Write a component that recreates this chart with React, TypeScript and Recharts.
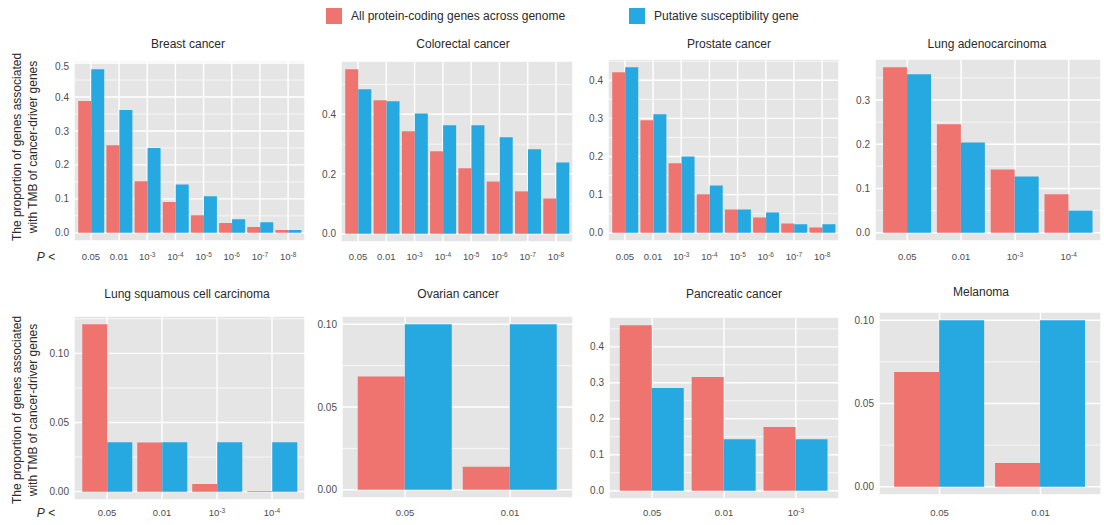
import React from 'react';
import { BarChart, Bar, XAxis, YAxis, CartesianGrid } from 'recharts';

// P-value cut-offs shown on the x axis ("1e-3" is drawn as 10 with a superscript)
const pCutoffs = ['0.05', '0.01', '1e-3', '1e-4', '1e-5', '1e-6', '1e-7', '1e-8'];
const seriesNames = ['All protein-coding genes across genome', 'Putative susceptibility gene'];

// proportions
const breastGenome = [0.388, 0.258, 0.152, 0.091, 0.052, 0.029, 0.017, 0.008];
const breastSuscept = [0.482, 0.362, 0.25, 0.142, 0.108, 0.04, 0.031, 0.008];
const colorectalGenome = [0.551, 0.447, 0.343, 0.276, 0.219, 0.175, 0.142, 0.118];
const colorectalSuscept = [0.484, 0.444, 0.403, 0.363, 0.363, 0.323, 0.283, 0.239];
const prostateGenome = [0.421, 0.295, 0.182, 0.101, 0.061, 0.04, 0.024, 0.014];
const prostateSuscept = [0.434, 0.311, 0.2, 0.124, 0.061, 0.053, 0.022, 0.022];
const luadGenome = [0.374, 0.245, 0.143, 0.087];
const luadSuscept = [0.358, 0.204, 0.127, 0.05];
const luscGenome = [0.121, 0.0355, 0.0056, 0.0005];
const luscSuscept = [0.0357, 0.0357, 0.0357, 0.0357];
const ovarianGenome = [0.0685, 0.0139];
const ovarianSuscept = [0.1, 0.1];
const pancreaticGenome = [0.46, 0.316, 0.177];
const pancreaticSuscept = [0.2857, 0.1429, 0.1429];
const melanomaGenome = [0.0689, 0.0143];
const melanomaSuscept = [0.1, 0.1];

// y ticks (major labelled, minor = thin grid only)
const ticksTenths = [0, 0.1, 0.2, 0.3, 0.4, 0.5];
const ticksFifths = [0, 0.2, 0.4];
const ticksSmall = [0, 0.05, 0.1];
const minorTenths = [0.05, 0.15, 0.25, 0.35, 0.45];
const minorFifths = [0.1, 0.3, 0.5];
const minorSmall = [0.025, 0.075, 0.125];

const RED = '#EF7470';
const BLUE = '#26A9E0';
const TEXT = '#2A2A2A';
const FONT = '"Liberation Sans", Arial, Helvetica, sans-serif';
const AXW = 45;

const panels = [
  { title: 'Breast cancer', cats: pCutoffs, genome: breastGenome, suscept: breastSuscept, major: ticksTenths, minor: minorTenths, digits: 1, box: { x: 74, y: 61, w: 231, h: 180 }, titleX: 188, titleY: 44, labelY: 257 },
  { title: 'Colorectal cancer', cats: pCutoffs, genome: colorectalGenome, suscept: colorectalSuscept, major: ticksFifths, minor: minorFifths, digits: 1, box: { x: 341, y: 61, w: 232, h: 181 }, titleX: 463, titleY: 44, labelY: 257 },
  { title: 'Prostate cancer', cats: pCutoffs, genome: prostateGenome, suscept: prostateSuscept, major: ticksTenths.slice(0, 5), minor: minorTenths, digits: 1, box: { x: 608, y: 59, w: 231, h: 182 }, titleX: 729, titleY: 44, labelY: 257 },
  { title: 'Lung adenocarcinoma', cats: pCutoffs.slice(0, 4), genome: luadGenome, suscept: luadSuscept, major: ticksTenths.slice(0, 4), minor: minorTenths.slice(0, 4), digits: 1, box: { x: 875, y: 59, w: 226, h: 182 }, titleX: 987, titleY: 44, labelY: 257 },
  { title: 'Lung squamous cell carcinoma', cats: pCutoffs.slice(0, 4), genome: luscGenome, suscept: luscSuscept, major: ticksSmall, minor: minorSmall, digits: 2, box: { x: 74, y: 316, w: 231, h: 184 }, titleX: 187, titleY: 294, labelY: 513 },
  { title: 'Ovarian cancer', cats: pCutoffs.slice(0, 2), genome: ovarianGenome, suscept: ovarianSuscept, major: ticksSmall, minor: minorSmall.slice(0, 2), digits: 2, box: { x: 342, y: 316, w: 231, h: 182 }, titleX: 458, titleY: 294, labelY: 513 },
  { title: 'Pancreatic cancer', cats: pCutoffs.slice(0, 3), genome: pancreaticGenome, suscept: pancreaticSuscept, major: ticksTenths.slice(0, 5), minor: minorTenths, digits: 1, box: { x: 609, y: 317, w: 230, h: 182 }, titleX: 734, titleY: 294, labelY: 513 },
  { title: 'Melanoma', cats: pCutoffs.slice(0, 2), genome: melanomaGenome, suscept: melanomaSuscept, major: ticksSmall, minor: minorSmall.slice(0, 2), digits: 2, box: { x: 879, y: 312, w: 222, h: 183 }, titleX: 981, titleY: 292, labelY: 513 },
];

function PTick({ x, y, payload, shift }: any) {
  const v = String(payload.value);
  const m = v.match(/^1e(-\d+)$/);
  return (
    <text x={x} y={y + shift} dy="0.35em" textAnchor="middle" fill="#4D4D4D" fontSize={9.5} fontFamily={FONT}>
      {m ? (
        <>
          10<tspan dy={-3.5} fontSize={6.5}>{m[1]}</tspan>
        </>
      ) : v}
    </text>
  );
}

function FacetPanel({ p }: { p: any }) {
  const n = p.cats.length;
  const unit = p.box.w / (n + 0.2);
  const rows = p.cats.map((c: string, i: number) => ({ p: c, genome: p.genome[i], suscept: p.suscept[i] }));
  const max = Math.max(...p.genome, ...p.suscept);
  const domain = [-0.05 * max, 1.05 * max];
  const minor = p.minor.filter((v: number) => v < domain[1]);
  const shift = p.labelY - (p.box.y + p.box.h);
  return (
    <div style={{ position: 'absolute', left: p.box.x - AXW, top: p.box.y }}>
      <BarChart width={p.box.w + AXW} height={p.box.h + 25} data={rows}
        margin={{ top: 0, right: 0, bottom: 0, left: 0 }} barCategoryGap="5%" barGap={0}>
        <CartesianGrid fill="#E5E5E5" fillOpacity={1} stroke="#fff" strokeWidth={0.7} vertical={false} horizontalValues={minor} />
        <CartesianGrid stroke="#fff" strokeWidth={1.4} />
        <XAxis dataKey="p" type="category" height={25} interval={0}
          padding={{ left: 0.1 * unit, right: 0.1 * unit }}
          axisLine={false} tickLine={false} tickSize={0} tickMargin={0}
          tick={(props: any) => <PTick {...props} shift={shift} />} />
        <YAxis type="number" domain={domain} ticks={p.major} width={AXW} allowDataOverflow
          axisLine={false} tickLine={false} tickSize={0} tickMargin={5}
          tick={{ fill: '#4D4D4D', fontSize: 10, fontFamily: FONT }}
          tickFormatter={(v: number) => v.toFixed(p.digits)} />
        <Bar dataKey="genome" fill={RED} isAnimationActive={false} />
        <Bar dataKey="suscept" fill={BLUE} isAnimationActive={false} />
      </BarChart>
    </div>
  );
}

function YTitle({ cy }: { cy: number }) {
  return (
    <g fontSize={12} fill={TEXT} fontFamily={FONT}>
      <text transform={`translate(20.5,${cy}) rotate(-90)`} textAnchor="middle">The proportion of genes associated</text>
      <text transform={`translate(36.5,${cy}) rotate(-90)`} textAnchor="middle">with TMB of cancer-driver genes</text>
    </g>
  );
}

function PLabel({ y }: { y: number }) {
  return (
    <text x={46} y={y} dy="0.35em" textAnchor="middle" fontSize={12} fill={TEXT} fontFamily={FONT}>
      <tspan fontStyle="italic">P</tspan> &lt;
    </text>
  );
}

export default function App() {
  return (
    <div style={{ position: 'fixed', left: 0, top: 0, width: 1104, height: 525, background: '#fff', fontFamily: FONT }}>
      {panels.map((p) => <FacetPanel key={p.title} p={p} />)}
      <svg width={1104} height={525} style={{ position: 'absolute', left: 0, top: 0, pointerEvents: 'none' }}>
        <rect x={326} y={8} width={16} height={16} fill={RED} />
        <text x={351} y={16} dy="0.35em" fontSize={12} fill={TEXT} fontFamily={FONT}>{seriesNames[0]}</text>
        <rect x={629} y={8} width={16} height={16} fill={BLUE} />
        <text x={654} y={16} dy="0.35em" fontSize={12} fill={TEXT} fontFamily={FONT}>{seriesNames[1]}</text>
        {panels.map((p) => (
          <text key={p.title} x={p.titleX} y={p.titleY} dy="0.35em" textAnchor="middle" fontSize={12} fill={TEXT} fontFamily={FONT}>{p.title}</text>
        ))}
        <YTitle cy={147} />
        <YTitle cy={410} />
        <PLabel y={257} />
        <PLabel y={513} />
      </svg>
    </div>
  );
}
